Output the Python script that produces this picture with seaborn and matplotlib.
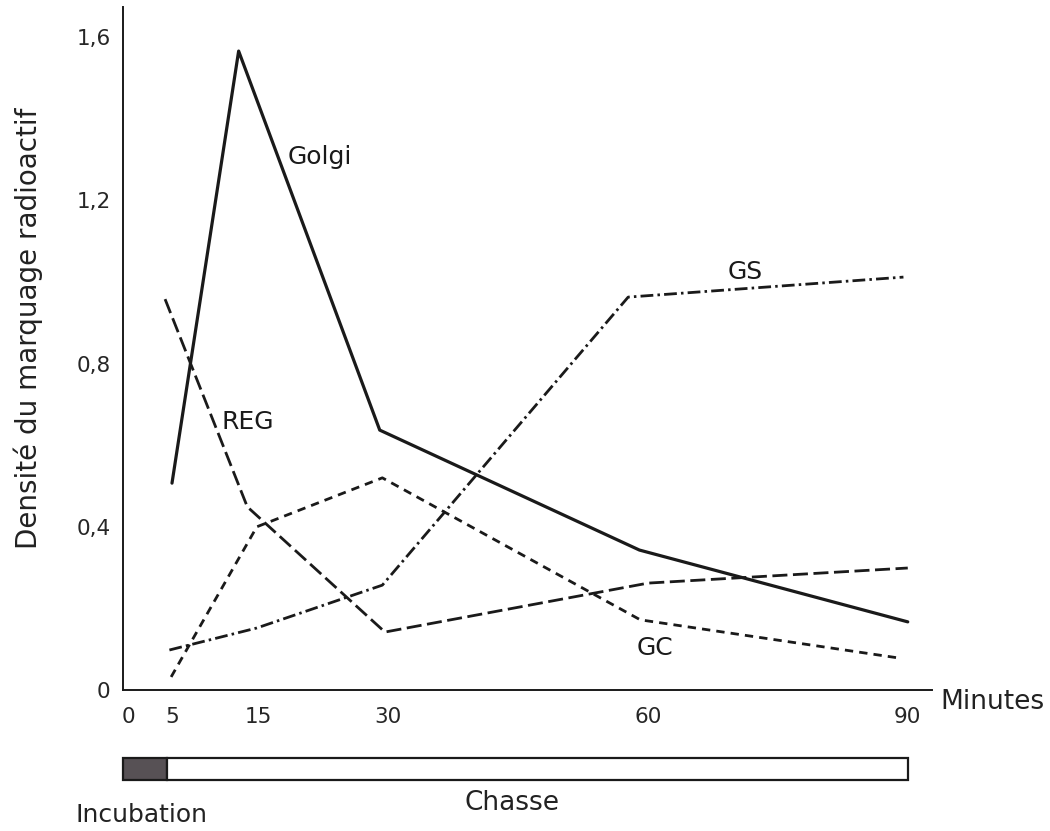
import numpy as np
import pandas as pd
import matplotlib
matplotlib.use("Agg")
import matplotlib.pyplot as plt
import seaborn as sns

# ---- data ----
golgi_x = [5, 12.7, 29, 59, 90]
golgi_y = [0.507, 1.566, 0.637, 0.343, 0.167]

reg_x = [4.2, 13.7, 29.6, 60, 90]
reg_y = [0.958, 0.449, 0.142, 0.262, 0.299]

gc_x = [4.9, 14.8, 29.3, 59.1, 89.1]
gc_y = [0.032, 0.400, 0.520, 0.172, 0.078]

gs_x = [4.7, 14.8, 29.3, 57.7, 89.5]
gs_y = [0.098, 0.152, 0.257, 0.963, 1.012]

series_names = ["Golgi", "REG", "GC", "GS"]
label_x = [22.1, 13.8, 60.8, 71.2]
label_y = [1.306, 0.657, 0.103, 1.025]

x_ticks = [0, 5, 15, 30, 60, 90]
x_tick_labels = ["0", "5", "15", "30", "60", "90"]
y_ticks = [0, 0.4, 0.8, 1.2, 1.6]
y_tick_labels = ["0", "0,4", "0,8", "1,2", "1,6"]

phase_labels = ["Incubation", "Chasse"]
phase_start = [0, 5]
phase_end = [5, 90]

# ---- style ----
sns.set_theme(style="white")
plt.rcParams["font.family"] = ["DejaVu Sans"]

W, H = 1050, 831
fig = plt.figure(figsize=(W / 100, H / 100), dpi=100)
fig.patch.set_facecolor("white")

def px(x0, y0, x1, y1):
    return [x0 / W, 1 - y1 / H, (x1 - x0) / W, (y1 - y0) / H]

ax = fig.add_axes(px(123, 7, 932, 690))
ax.set_facecolor("white")

ink = "#1a1a1a"
df = pd.concat([
    pd.DataFrame({"serie": "Golgi", "t": golgi_x, "v": golgi_y}),
    pd.DataFrame({"serie": "REG", "t": reg_x, "v": reg_y}),
    pd.DataFrame({"serie": "GC", "t": gc_x, "v": gc_y}),
    pd.DataFrame({"serie": "GS", "t": gs_x, "v": gs_y}),
])

styles = {
    "Golgi": dict(lw=2.3, ls="-"),
    "REG": dict(lw=2.0, ls=(0, (5.4, 2.0))),
    "GC": dict(lw=2.0, ls=(0, (3.0, 2.2))),
    "GS": dict(lw=2.0, ls=(0, (4.6, 1.5, 0.9, 1.5))),
}
for name in series_names:
    sub = df[df["serie"] == name]
    sns.lineplot(data=sub, x="t", y="v", ax=ax, color=ink,
                 linewidth=styles[name]["lw"], linestyle=styles[name]["ls"],
                 estimator=None, sort=False)

for name, lx, ly in zip(series_names, label_x, label_y):
    ax.text(lx, ly, name, fontsize=18, color=ink, ha="center", va="center")

ax.set_xlim(-0.66, 92.8)
ax.set_ylim(0, 1.674)
ax.set_xticks(x_ticks)
ax.set_xticklabels(x_tick_labels)
ax.set_yticks(y_ticks)
ax.set_yticklabels(y_tick_labels)
ax.set_xlabel("")
ax.set_ylabel("")
for s in ["top", "right"]:
    ax.spines[s].set_visible(False)
for s in ["left", "bottom"]:
    ax.spines[s].set_color(ink)
    ax.spines[s].set_linewidth(1.4)
ax.tick_params(axis="both", direction="in", length=10, width=1.2,
               colors=ink, labelsize=15.5, labelcolor="#262626")
ax.tick_params(axis="x", pad=12)
ax.tick_params(axis="y", pad=9)

fig.text(28 / W, 1 - 328 / H, "Densité du marquage radioactif",
         rotation=90, fontsize=20, color="#222222", ha="center", va="center")
fig.text(940 / W, 1 - 702 / H, "Minutes", fontsize=19, color="#222222",
         ha="left", va="center")

# ---- incubation / chasse bar ----
bx = fig.add_axes(px(123, 757, 908, 781))
bx.set_xlim(0, 90)
bx.set_ylim(-0.5, 0.5)
widths = [e - s for s, e in zip(phase_start, phase_end)]
bx.barh([0, 0], widths, left=phase_start, height=0.95,
        color=["#575155", "white"], edgecolor=ink, linewidth=1.6,
        clip_on=False)
bx.axis("off")

fig.text(142 / W, 1 - 815 / H, phase_labels[0], fontsize=18, color="#222222",
         ha="center", va="center")
fig.text(512 / W, 1 - 803 / H, phase_labels[1], fontsize=19, color="#222222",
         ha="center", va="center")

fig.savefig("out.png", dpi=100, facecolor="white")
